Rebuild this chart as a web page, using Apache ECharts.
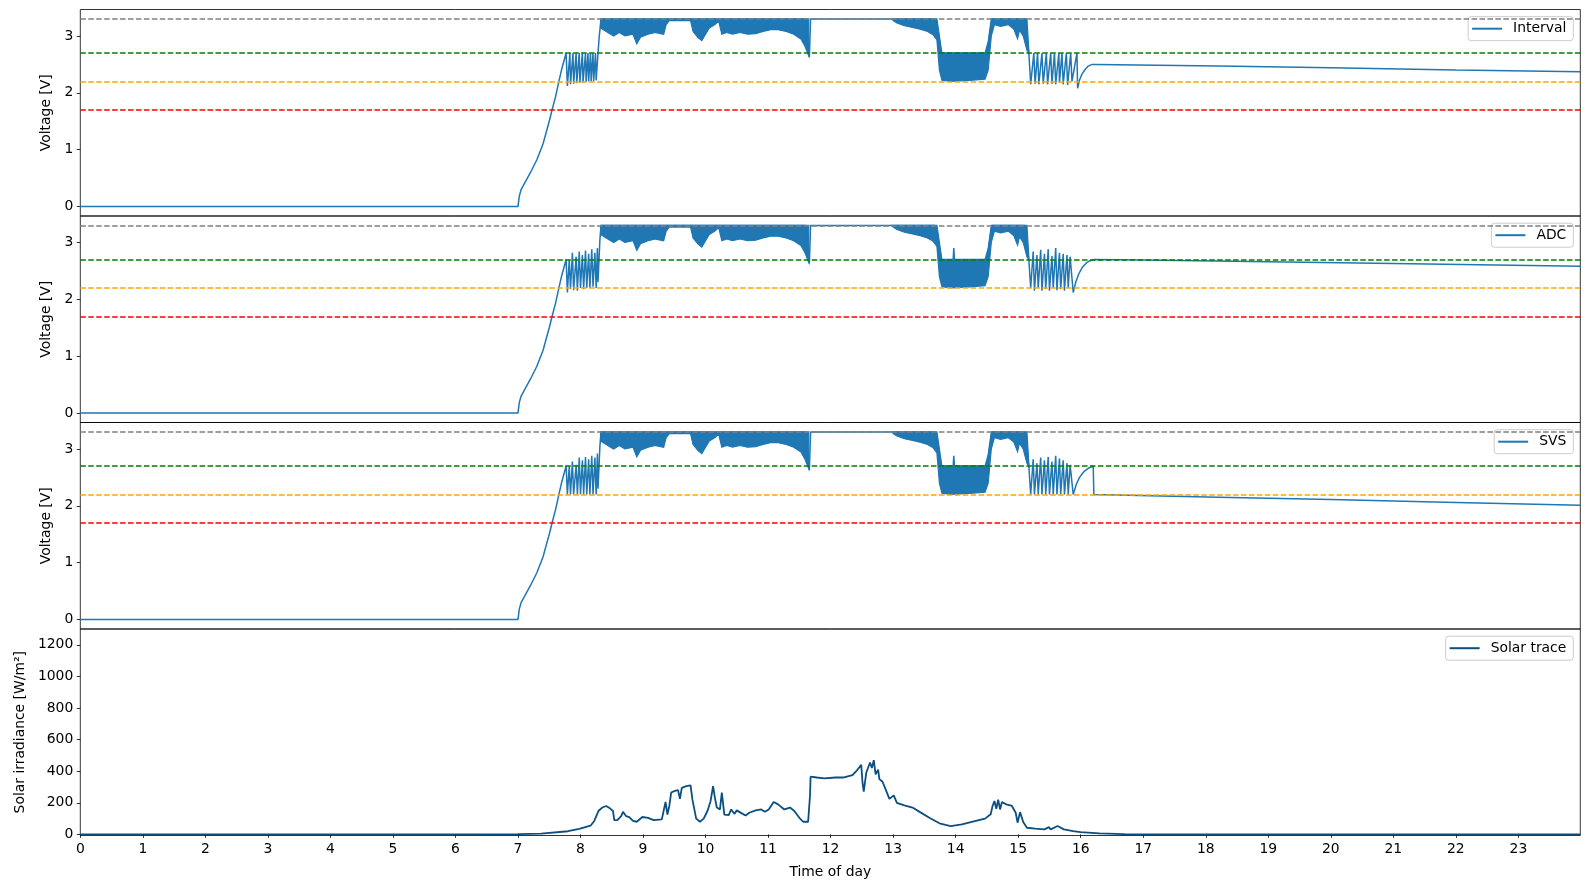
<!DOCTYPE html>
<html>
<head>
<meta charset="utf-8">
<script src="https://cdn.jsdelivr.net/npm/echarts@6/dist/echarts.min.js"></script>
<style>html,body{margin:0;padding:0;background:#fff;}#c{width:1590px;height:889px;}</style>
</head>
<body>
<div id="c"></div>
<script>
// ---------------- DATA (hours, value) ----------------
const hourTicks = [0,1,2,3,4,5,6,7,8,9,10,11,12,13,14,15,16,17,18,19,20,21,22,23];
const voltTicks = [0,1,2,3];
const solarTicks = [0,200,400,600,800,1000,1200];
const thresholds = [3.3, 2.7, 2.2, 1.7];
const panelNames = ['Interval', 'ADC', 'SVS', 'Solar trace'];

// Interval voltage trace (non-dense parts)
const intervalLine = [
  [0,0],[7.0,0],[7.02,0.18],[7.05,0.3],[7.1,0.4],[7.2,0.6],[7.3,0.82],[7.4,1.1],[7.5,1.5],[7.55,1.72],[7.6,1.93],[7.65,2.18],[7.7,2.42],[7.77,2.7],
  [7.79,2.12],[7.83,2.7],[7.84,2.15],[7.88,2.7],[7.89,2.16],[7.93,2.7],[7.94,2.17],[7.98,2.7],[7.99,2.18],[8.03,2.7],[8.04,2.18],[8.08,2.7],[8.09,2.19],[8.12,2.7],[8.13,2.2],[8.16,2.7],[8.17,2.2],[8.2,2.7],[8.21,2.2],[8.24,2.7],[8.25,2.22],[8.28,2.7],
  [8.3,3.0],[8.33,3.3],[11.6,3.3],[11.66,2.63],[11.68,3.3],[12.9,3.3],[12.93,3.27],[12.96,3.3],[13.67,3.3],[13.77,2.7],[14.5,2.7],[14.58,3.3],[15.1,3.3],[15.17,2.7],
  [15.2,2.15],[15.25,2.7],[15.27,2.16],[15.31,2.7],[15.33,2.15],[15.38,2.7],[15.4,2.16],[15.45,2.7],[15.47,2.15],[15.52,2.7],[15.54,2.16],[15.58,2.7],[15.6,2.15],[15.65,2.7],[15.66,2.18],[15.7,2.7],[15.72,2.15],[15.77,2.7],[15.79,2.14],[15.84,2.7],[15.86,2.2],[15.94,2.7],
  [15.95,2.08],[15.98,2.22],[16.02,2.33],[16.07,2.41],[16.12,2.47],[16.18,2.5],[16.25,2.5],[18.2,2.47],[20,2.44],[22,2.4],[23.99,2.37]
];

// ADC voltage trace
const adcLine = [
  [0,0],[7.0,0],[7.02,0.18],[7.05,0.3],[7.1,0.4],[7.2,0.6],[7.3,0.82],[7.4,1.1],[7.5,1.5],[7.55,1.72],[7.6,1.93],[7.65,2.18],[7.7,2.42],[7.77,2.7],
  [7.79,2.12],[7.82,2.7],[7.84,2.18],[7.87,2.82],[7.89,2.16],[7.93,2.75],[7.95,2.15],[7.98,2.84],[8.0,2.2],[8.03,2.78],[8.05,2.18],[8.08,2.86],[8.1,2.2],[8.13,2.8],[8.15,2.2],[8.18,2.88],[8.2,2.22],[8.23,2.82],[8.25,2.2],[8.27,2.9],[8.28,2.3],
  [8.31,3.05],[8.33,3.3],[11.6,3.3],[11.66,2.63],[11.68,3.3],[12.9,3.3],[12.93,3.27],[12.96,3.3],[13.67,3.3],[13.77,2.7],[13.96,2.7],[13.97,2.9],[13.98,2.7],[14.5,2.7],[14.58,3.3],[15.1,3.3],[15.17,2.7],
  [15.2,2.2],[15.24,2.84],[15.26,2.15],[15.3,2.78],[15.32,2.2],[15.36,2.87],[15.38,2.15],[15.42,2.8],[15.44,2.18],[15.48,2.88],[15.5,2.15],[15.54,2.76],[15.56,2.2],[15.6,2.9],[15.62,2.16],[15.66,2.82],[15.68,2.18],[15.72,2.8],[15.74,2.15],[15.78,2.78],[15.8,2.2],[15.83,2.75],
  [15.88,2.12],[15.92,2.3],[15.97,2.45],[16.03,2.57],[16.09,2.64],[16.15,2.68],[16.22,2.7],[17,2.69],[19,2.66],[21,2.63],[23.99,2.58]
];

// SVS voltage trace
const svsLine = [
  [0,0],[7.0,0],[7.02,0.18],[7.05,0.3],[7.1,0.4],[7.2,0.6],[7.3,0.82],[7.4,1.1],[7.5,1.5],[7.55,1.72],[7.6,1.93],[7.65,2.18],[7.7,2.42],[7.77,2.7],
  [7.79,2.2],[7.82,2.7],[7.84,2.2],[7.87,2.78],[7.89,2.2],[7.93,2.72],[7.95,2.2],[7.98,2.85],[8.0,2.2],[8.03,2.8],[8.05,2.2],[8.08,2.86],[8.1,2.2],[8.13,2.82],[8.15,2.2],[8.18,2.88],[8.2,2.2],[8.23,2.85],[8.25,2.2],[8.27,2.92],[8.28,2.3],
  [8.31,3.05],[8.33,3.3],[11.6,3.3],[11.66,2.63],[11.68,3.3],[12.9,3.3],[12.93,3.27],[12.96,3.3],[13.67,3.3],[13.77,2.7],[13.96,2.7],[13.97,2.88],[13.98,2.7],[14.5,2.7],[14.58,3.3],[15.1,3.3],[15.17,2.7],
  [15.2,2.2],[15.24,2.82],[15.26,2.2],[15.3,2.75],[15.32,2.2],[15.36,2.85],[15.38,2.2],[15.42,2.8],[15.44,2.2],[15.48,2.86],[15.5,2.2],[15.54,2.78],[15.56,2.2],[15.6,2.88],[15.62,2.2],[15.66,2.83],[15.68,2.2],[15.72,2.8],[15.74,2.2],[15.78,2.75],[15.8,2.2],[15.83,2.72],
  [15.88,2.2],[15.93,2.38],[15.98,2.5],[16.05,2.6],[16.12,2.66],[16.2,2.7],[16.21,2.2],[18.2,2.15],[20,2.11],[22,2.06],[23.99,2.01]
];

// Dense oscillation envelopes [hour, low, high]
const denseBandMorning = [
  [8.32,3.14,3.3],[8.41,3.08,3.3],[8.53,3.0,3.3],[8.62,3.06,3.3],[8.71,3.0,3.3],[8.84,3.03,3.3],[8.9,2.86,3.3],[8.96,2.98,3.3],[9.08,3.03,3.3],[9.2,3.06,3.3],[9.33,3.03,3.3],[9.37,3.2,3.3],[9.42,3.27,3.3],[9.76,3.27,3.3],[9.8,3.08,3.3],[9.88,2.97,3.3],[9.94,2.92,3.3],[10.0,3.03,3.3],[10.06,3.14,3.3],[10.15,3.2,3.3],[10.21,3.26,3.3],[10.26,3.03,3.3],[10.34,3.06,3.3],[10.43,3.03,3.3],[10.55,3.06,3.3],[10.67,3.03,3.3],[10.8,3.04,3.3],[10.92,3.08,3.3],[11.04,3.11,3.3],[11.16,3.11,3.3],[11.29,3.08,3.3],[11.41,3.03,3.3],[11.53,2.94,3.3],[11.59,2.82,3.3],[11.65,2.65,3.3]
];
const denseBandAfternoon = [
  [12.98,3.3,3.3],[13.0,3.27,3.3],[13.06,3.23,3.3],[13.18,3.18,3.3],[13.31,3.15,3.3],[13.43,3.12,3.3],[13.55,3.08,3.3],[13.64,3.02,3.3],[13.7,2.93,3.3],[13.74,2.4,3.0],[13.78,2.22,2.7],[13.92,2.2,2.7],[14.23,2.22,2.7],[14.47,2.24,2.7],[14.52,2.4,2.9],[14.57,3.0,3.3],[14.62,3.2,3.3],[14.72,3.17,3.3],[14.84,3.2,3.3],[14.93,3.12,3.3],[14.99,2.95,3.3],[15.02,3.1,3.3],[15.08,3.0,3.3],[15.14,2.75,3.3],[15.17,2.7,2.75]
];

// Solar irradiance trace
const solarTrace = [
  [0,0],[6.4,0],[7.0,2],[7.37,5],[7.8,20],[7.98,35],[8.16,55],[8.22,85],[8.29,150],[8.35,170],[8.41,180],[8.47,165],[8.52,148],[8.54,90],[8.59,90],[8.65,115],[8.68,143],[8.73,115],[8.78,110],[8.84,85],[8.9,80],[8.99,110],[9.08,105],[9.17,90],[9.3,95],[9.33,100],[9.36,205],[9.39,125],[9.42,180],[9.45,265],[9.51,275],[9.56,280],[9.59,225],[9.62,295],[9.69,305],[9.76,310],[9.79,220],[9.85,100],[9.91,80],[9.97,100],
  [10.03,148],[10.08,210],[10.12,305],[10.15,230],[10.18,170],[10.23,158],[10.26,265],[10.3,125],[10.37,122],[10.41,158],[10.46,130],[10.5,152],[10.58,133],[10.64,120],[10.7,137],[10.8,152],[10.89,158],[10.95,143],[11.01,158],[11.09,205],[11.16,190],[11.26,158],[11.35,170],[11.42,148],[11.5,105],[11.56,80],[11.64,80],[11.67,243],[11.68,365],[11.78,360],[11.9,355],
  [12.08,360],[12.2,360],[12.35,375],[12.41,400],[12.49,440],[12.51,327],[12.53,270],[12.55,270],[12.57,390],[12.63,455],[12.66,420],[12.69,470],[12.72,380],[12.76,410],[12.78,350],[12.83,333],[12.88,285],[12.94,225],[13.01,247],[13.06,200],[13.18,184],[13.31,170],[13.43,141],[13.58,105],[13.74,70],[13.92,53],
  [14.1,63],[14.29,82],[14.47,100],[14.56,127],[14.59,180],[14.62,211],[14.65,162],[14.68,220],[14.71,158],[14.74,205],[14.81,190],[14.9,180],[14.96,137],[14.99,74],[15.03,141],[15.08,78],[15.14,42],[15.27,36],[15.42,32],[15.49,46],[15.52,32],[15.63,53],[15.73,32],[15.88,21],[16.0,15],[16.3,7],[16.7,2],[17,0],[23.99,0]
];

// ---------------- CHART ----------------
const FONT = 'DejaVu Sans';
const FS = 13.9;
const BLUE = '#1f77b4';
const NAVY = '#0b4f80';
const X_MAX = 23.99;
const gridTop = [9.5, 216, 422.5, 629];
const gridH = 206.5;
const thrColors = ['#808080', '#008000', '#ffa500', '#ff0000'];

const grids = gridTop.map(t => ({left: 80.3, right: 9.7, top: t, height: gridH, show: true, borderColor: '#000', borderWidth: 0.8, backgroundColor: 'transparent', containLabel: false}));

const xAxes = gridTop.map((t, i) => ({
  type: 'value', gridIndex: i, min: 0, max: X_MAX,
  axisLine: {show: false},
  splitLine: {show: false},
  axisTick: {show: i === 3, length: 3.5, customValues: hourTicks, lineStyle: {color: '#000', width: 0.8}},
  axisLabel: {show: i === 3, customValues: hourTicks, margin: 7, color: '#000', fontFamily: FONT, fontSize: FS, formatter: v => String(v)},
  name: i === 3 ? 'Time of day' : '', nameLocation: 'middle', nameGap: 30,
  nameTextStyle: {color: '#000', fontFamily: FONT, fontSize: FS}
}));

const yAxes = gridTop.map((t, i) => {
  const solar = i === 3;
  const ticks = solar ? solarTicks : voltTicks;
  return {
    type: 'value', gridIndex: i,
    min: solar ? -7 : -0.165, max: solar ? 1300 : 3.465,
    axisLine: {show: false}, splitLine: {show: false},
    axisTick: {show: true, length: 3.5, customValues: ticks, lineStyle: {color: '#000', width: 0.8}},
    axisLabel: {customValues: ticks, margin: 7, color: '#000', fontFamily: FONT, fontSize: FS, formatter: v => String(v)},
    name: solar ? 'Solar irradiance [W/m²]' : 'Voltage [V]',
    nameLocation: 'middle', nameGap: solar ? 47 : 23, nameRotate: 90,
    nameTextStyle: {color: '#000', fontFamily: FONT, fontSize: FS}
  };
});

function bandRender(params, api) {
  if (params.dataIndexInside !== 0) return null;
  const n = params.dataInsideLength;
  const top = [], bot = [];
  for (let i = 0; i < n; i++) {
    top.push(api.coord([api.value(0, i), api.value(2, i)]));
    bot.push(api.coord([api.value(0, i), api.value(1, i)]));
  }
  return {type: 'polygon', shape: {points: top.concat(bot.reverse())},
    style: {fill: BLUE, stroke: BLUE, lineWidth: 1.2}};
}

const thrMarkLine = {
  symbol: ['none', 'none'], silent: true, animation: false, z: 10,
  label: {show: false},
  data: thresholds.map((v, k) => ({yAxis: v, lineStyle: {color: thrColors[k], type: [5.55, 2.4], width: 1.5}}))
};

const voltData = [intervalLine, adcLine, svsLine];
const series = [];
voltData.forEach((d, i) => {
  series.push({type: 'custom', name: panelNames[i] + ' band A', xAxisIndex: i, yAxisIndex: i, renderItem: bandRender,
    dimensions: ['t', 'lo', 'hi'], encode: {x: 0, y: [1, 2]}, data: denseBandMorning, z: 2, silent: true, animation: false});
  series.push({type: 'custom', name: panelNames[i] + ' band B', xAxisIndex: i, yAxisIndex: i, renderItem: bandRender,
    dimensions: ['t', 'lo', 'hi'], encode: {x: 0, y: [1, 2]}, data: denseBandAfternoon, z: 2, silent: true, animation: false});
  series.push({type: 'line', name: panelNames[i], xAxisIndex: i, yAxisIndex: i, data: d, showSymbol: false,
    lineStyle: {color: BLUE, width: 1.5}, itemStyle: {color: BLUE}, z: 3, animation: false,
    markLine: thrMarkLine});
});
series.push({type: 'line', name: panelNames[3], xAxisIndex: 3, yAxisIndex: 3, data: solarTrace, showSymbol: false,
  lineStyle: {color: NAVY, width: 1.8}, itemStyle: {color: NAVY}, z: 3, animation: false});

const legends = gridTop.map((t, i) => ({
  data: [panelNames[i]], right: 16.7, top: t + 7.2, orient: 'vertical',
  icon: 'rect', itemWidth: 30, itemHeight: 2,
  backgroundColor: 'rgba(255,255,255,0.8)', borderColor: '#cccccc', borderWidth: 1, borderRadius: 3,
  padding: [4, 7, 4, 4],
  selectedMode: false,
  textStyle: {color: '#000', fontFamily: FONT, fontSize: FS, lineHeight: 16, padding: [0, 0, 0, 6]}
}));

const chart = echarts.init(document.getElementById('c'), null, {renderer: 'canvas', width: 1590, height: 889});
chart.setOption({
  animation: false,
  backgroundColor: '#fff',
  textStyle: {fontFamily: FONT},
  grid: grids, xAxis: xAxes, yAxis: yAxes, legend: legends, series: series
});
</script>
</body>
</html>
